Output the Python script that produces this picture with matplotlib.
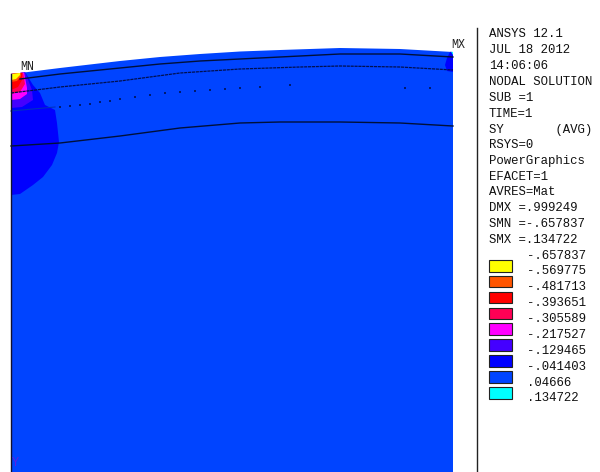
import matplotlib
matplotlib.use('Agg')
import numpy as np
import matplotlib.pyplot as plt
from matplotlib.patches import Polygon, Rectangle

top_x = [11, 20, 60, 120, 160, 200, 240, 280, 340, 400, 453]
top_y = [74, 73, 68, 61, 57, 54, 51.5, 50, 48, 49, 52]

line1_x = [20, 60, 120, 160, 200, 240, 280, 340, 400, 453]
line1_y = [79, 74, 68, 64, 61, 59, 57, 54, 54, 57]
line2_x = [11, 60, 120, 180, 240, 300, 340, 400, 453]
line2_y = [93, 87, 81, 73, 69, 67, 66, 67, 70]
line3_x = [60, 70, 80, 90, 100, 110, 120, 135, 150, 165, 180, 195, 210, 225, 240, 260, 290, 405, 430]
line3_y = [107, 106, 105, 104, 102, 101, 99, 97, 95, 93, 92, 91, 90, 89, 88, 87, 85, 88, 88]
line3b_x = [11, 55]
line3b_y = [111, 107]
line4_x = [11, 60, 120, 180, 240, 280, 340, 400, 453]
line4_y = [146, 143, 136, 128, 123, 122, 122, 123, 126]

blue_x = [11, 20, 33, 43, 52, 57, 59, 57, 55, 45, 40, 33, 25, 11]
blue_y = [195, 194, 185, 177, 165, 153, 142, 123, 110, 105, 93, 85, 72, 72]
purple_x = [11, 22, 33, 32, 25, 11]
purple_y = [108, 107, 100, 90, 72, 72]
magenta_x = [11, 20, 27, 27, 24, 11]
magenta_y = [100, 99, 94, 88, 72, 72]
crimson_x = [11, 20, 25, 23, 11]
crimson_y = [94, 92, 84, 72, 72]
red_x = [11, 18, 22, 22, 11]
red_y = [90, 87, 80, 72, 72]
orange_x = [11, 17, 21, 21, 11]
orange_y = [82, 81, 76, 72, 72]
yellow_x = [11, 16, 20, 20, 11]
yellow_y = [80, 79, 75, 72, 72]
mx_x = [453, 447, 445, 447, 451, 453]
mx_y = [72, 71, 65, 58, 50, 50]
cyan_x = [453, 450, 453]
cyan_y = [55, 50, 50]

info_lines = ['ANSYS 12.1', 'JUL 18 2012', '14:06:06', 'NODAL SOLUTION', 'SUB =1', 'TIME=1',
              'SY       (AVG)', 'RSYS=0', 'PowerGraphics', 'EFACET=1', 'AVRES=Mat',
              'DMX =.999249', 'SMN =-.657837', 'SMX =.134722']
info_y = [34, 50, 66, 82, 98, 114, 130, 145, 161, 177, 192, 208, 224, 240]
levels = ['-.657837', '-.569775', '-.481713', '-.393651', '-.305589', '-.217527',
          '-.129465', '-.041403', '.04666', '.134722']
level_y = [256, 271.5, 287, 303, 319, 335, 351, 367, 383, 398]
swatch_y = [260, 275.8, 291.6, 307.5, 323, 339, 355, 371, 387]
swatch_colors = ['#ffff00', '#ff5500', '#ff0000', '#ff0055', '#ff00ff', '#4400ff', '#0000ff', '#0044ff', '#00ffff']

fig = plt.figure(figsize=(6, 4.72), dpi=100)
ax = fig.add_axes([0, 0, 1, 1])
ax.set_xlim(0, 600)
ax.set_ylim(472, 0)
ax.axis('off')

body = Polygon(list(zip(top_x, top_y)) + [(453, 472), (11, 472)], closed=True,
               facecolor='#0044ff', edgecolor='none', zorder=1)
ax.add_patch(body)

zones = [(blue_x, blue_y, '#0000ff'), (purple_x, purple_y, '#4400ff'),
         (magenta_x, magenta_y, '#ff00ff'), (crimson_x, crimson_y, '#ff0055'),
         (red_x, red_y, '#ff0000'), (orange_x, orange_y, '#ff5500'),
         (yellow_x, yellow_y, '#ffff00'), (mx_x, mx_y, '#0000ff'), (cyan_x, cyan_y, '#00ffff')]
for i, (zx, zy, col) in enumerate(zones):
    p = Polygon(list(zip(zx, zy)), closed=True, facecolor=col, edgecolor='none', zorder=2 + i * 0.1)
    ax.add_patch(p)
    p.set_clip_path(body)

ax.plot(line1_x, line1_y, color='#00103a', lw=1, zorder=4)
ax.plot(line2_x, line2_y, color='#001050', lw=0.9, ls=(0, (2.5, 0.6)), zorder=4)
ax.plot(line3b_x, line3b_y, color='#0030c0', lw=0.8, zorder=4)
ax.scatter(line3_x, line3_y, s=1.2, color='#001a70', marker='s', linewidths=0, zorder=4)
ax.plot(line4_x, line4_y, color='#00103a', lw=1, zorder=4)
ax.plot([11, 11], [74, 472], color='#101030', lw=1, zorder=5)
ax.plot([477, 477], [28, 472], color='#222222', lw=1, zorder=5)

mono = 'Liberation Mono'
ax.text(20, 67.5, 'MN', family=mono, fontsize=8.4, color='#222222', va='center', zorder=6)
ax.text(451, 45, 'MX', family=mono, fontsize=8.4, color='#222222', va='center', zorder=6)
ax.text(12, 463, 'Y', family=mono, fontsize=8.4, color='#5a20e0', va='center', zorder=6)

for s, y in zip(info_lines, info_y):
    ax.text(489, y, s, family=mono, fontsize=8.9, color='#111111', va='center')
for s, y in zip(levels, level_y):
    ax.text(527, y, s, family=mono, fontsize=8.9, color='#111111', va='center')
for y, col in zip(swatch_y, swatch_colors):
    ax.add_patch(Rectangle((489, y), 23, 11.5, facecolor=col, edgecolor='#222222', lw=0.8))

plt.savefig('out.png', dpi=100)
